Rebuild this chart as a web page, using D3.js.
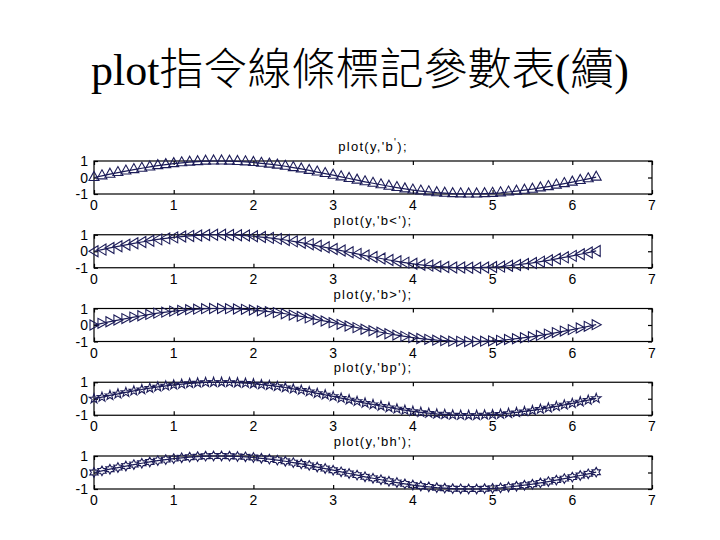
<!DOCTYPE html>
<html>
<head>
<meta charset="utf-8">
<script src="https://cdn.jsdelivr.net/npm/d3@7"></script>
<style>
body { margin: 0; background: #ffffff; }
</style>
</head>
<body>
<svg id="chart" width="720" height="540"></svg>
<script>
'use strict';

// sample points, x = 0:0.1:6.3
var xValues = [0, 0.1, 0.2, 0.3, 0.4, 0.5, 0.6, 0.7, 0.8, 0.9,
    1.0, 1.1, 1.2, 1.3, 1.4, 1.5, 1.6, 1.7, 1.8, 1.9,
    2.0, 2.1, 2.2, 2.3, 2.4, 2.5, 2.6, 2.7, 2.8, 2.9,
    3.0, 3.1, 3.2, 3.3, 3.4, 3.5, 3.6, 3.7, 3.8, 3.9,
    4.0, 4.1, 4.2, 4.3, 4.4, 4.5, 4.6, 4.7, 4.8, 4.9,
    5.0, 5.1, 5.2, 5.3, 5.4, 5.5, 5.6, 5.7, 5.8, 5.9,
    6.0, 6.1, 6.2, 6.3];
var yValues = [0, 0.10, 0.20, 0.30, 0.39, 0.48, 0.56, 0.64, 0.72, 0.78,
    0.84, 0.89, 0.93, 0.96, 0.99, 1.00, 1.00, 0.99, 0.97, 0.95,
    0.91, 0.86, 0.81, 0.75, 0.68, 0.60, 0.52, 0.43, 0.33, 0.24,
    0.14, 0.04, -0.06, -0.16, -0.26, -0.35, -0.44, -0.53, -0.61, -0.69,
    -0.76, -0.82, -0.87, -0.92, -0.95, -0.98, -0.99, -1.00, -1.00, -0.98,
    -0.96, -0.93, -0.88, -0.83, -0.77, -0.71, -0.63, -0.55, -0.46, -0.37,
    -0.28, -0.18, -0.08, 0.02];

var xTicks = [0, 1, 2, 3, 4, 5, 6, 7];
var yTicks = [-1, 0, 1];
var plotTitles = ["plot(y,'b^');", "plot(y,'b<');", "plot(y,'b>');", "plot(y,'bp');", "plot(y,'bh');"];
var markerTypes = ['^', '<', '>', 'p', 'h'];
var mainTitle = 'plot指令線條標記參數表(續)';

var lineColor = '#1c1c58';
var svg = d3.select('#chart');

var left = 94, right = 652;
var firstTop = 161, pitch = 73.75, boxHeight = 33;

svg.append('text')
    .attr('x', 360)
    .attr('y', 85)
    .attr('text-anchor', 'middle')
    .style('font-family', '"Liberation Serif", "Noto Sans CJK TC", serif')
    .style('font-size', '44px')
    .style('font-weight', '300')
    .style('fill', '#000')
    .text(mainTitle);

function starPath(points, outer, inner) {
    var pts = [];
    for (var k = 0; k < points * 2; k++) {
        var r = k % 2 === 0 ? outer : inner;
        var a = -Math.PI / 2 + k * Math.PI / points;
        pts.push([r * Math.cos(a), r * Math.sin(a)]);
    }
    return 'M' + pts.map(function(p) { return p[0].toFixed(2) + ',' + p[1].toFixed(2); }).join('L') + 'Z';
}

var markerPaths = {
    '^': 'M0,-6L5,3L-5,3Z',
    '<': 'M-5,0L4,-5.5L4,5.5Z',
    '>': 'M5,0L-4,-5L-4,5Z',
    'p': starPath(5, 5, 2),
    'h': starPath(6, 4.8, 2.7)
};

var x = d3.scaleLinear().domain([0, 7]).range([left, right]);

markerTypes.forEach(function(type, i) {
    var top = firstTop + i * pitch;
    var y = d3.scaleLinear().domain([-1, 1]).range([top + boxHeight, top]);
    var g = svg.append('g');

    // title, with TeX-like ^ making next char superscript
    var title = plotTitles[i];
    var t = g.append('text')
        .attr('x', (left + right) / 2)
        .attr('y', top - 10)
        .attr('text-anchor', 'middle')
        .style('font-family', '"Liberation Sans", Arial, sans-serif')
        .style('font-size', '13px')
        .style('letter-spacing', '1.3px')
        .style('fill', '#000');
    var caret = title.indexOf('^');
    if (caret >= 0) {
        t.append('tspan').text(title.slice(0, caret));
        t.append('tspan').attr('dy', -5).style('font-size', '10px').text(title.charAt(caret + 1));
        t.append('tspan').attr('dy', 5).text(title.slice(caret + 2));
    } else {
        t.text(title);
    }

    // box
    g.append('rect')
        .attr('x', left)
        .attr('y', top)
        .attr('width', right - left)
        .attr('height', boxHeight)
        .attr('fill', 'none')
        .attr('stroke', '#000')
        .attr('stroke-width', 1.2);

    // inward ticks on all four sides
    var bottomAxis = d3.axisBottom(x).tickValues(xTicks).tickSize(-4).tickFormat('');
    var topAxis = d3.axisTop(x).tickValues(xTicks).tickSize(-4).tickFormat('');
    var leftAxis = d3.axisLeft(y).tickValues(yTicks).tickSize(-4).tickFormat('');
    var rightAxis = d3.axisRight(y).tickValues(yTicks).tickSize(-4).tickFormat('');
    [[bottomAxis, 'translate(0,' + (top + boxHeight) + ')'],
     [topAxis, 'translate(0,' + top + ')'],
     [leftAxis, 'translate(' + left + ',0)'],
     [rightAxis, 'translate(' + right + ',0)']].forEach(function(a) {
        var ax = g.append('g').attr('transform', a[1]).call(a[0]);
        ax.select('.domain').remove();
        ax.selectAll('line').attr('stroke', '#000').attr('stroke-width', 1.2);
    });

    // tick labels
    g.selectAll('.xlab')
        .data(xTicks)
        .enter()
        .append('text')
        .attr('x', function(d) { return x(d); })
        .attr('y', top + boxHeight + 16)
        .attr('text-anchor', 'middle')
        .style('font-family', '"Liberation Sans", Arial, sans-serif')
        .style('font-size', '14px')
        .text(function(d) { return d; });
    g.selectAll('.ylab')
        .data(yTicks)
        .enter()
        .append('text')
        .attr('x', left - 6)
        .attr('y', function(d) { return y(d) + 5; })
        .attr('text-anchor', 'end')
        .style('font-family', '"Liberation Sans", Arial, sans-serif')
        .style('font-size', '14px')
        .text(function(d) { return d; });

    // line
    var line = d3.line()
        .x(function(d) { return x(d); })
        .y(function(d, j) { return y(yValues[j]); });
    g.append('path')
        .datum(xValues)
        .attr('d', line)
        .attr('fill', 'none')
        .attr('stroke', lineColor)
        .attr('stroke-width', 1.2);

    // markers
    g.selectAll('.mk')
        .data(xValues)
        .enter()
        .append('path')
        .attr('transform', function(d, j) { return 'translate(' + x(d) + ',' + y(yValues[j]) + ')'; })
        .attr('d', markerPaths[type])
        .attr('fill', 'none')
        .attr('stroke', lineColor)
        .attr('stroke-width', 1.1);
});
</script>
</body>
</html>
